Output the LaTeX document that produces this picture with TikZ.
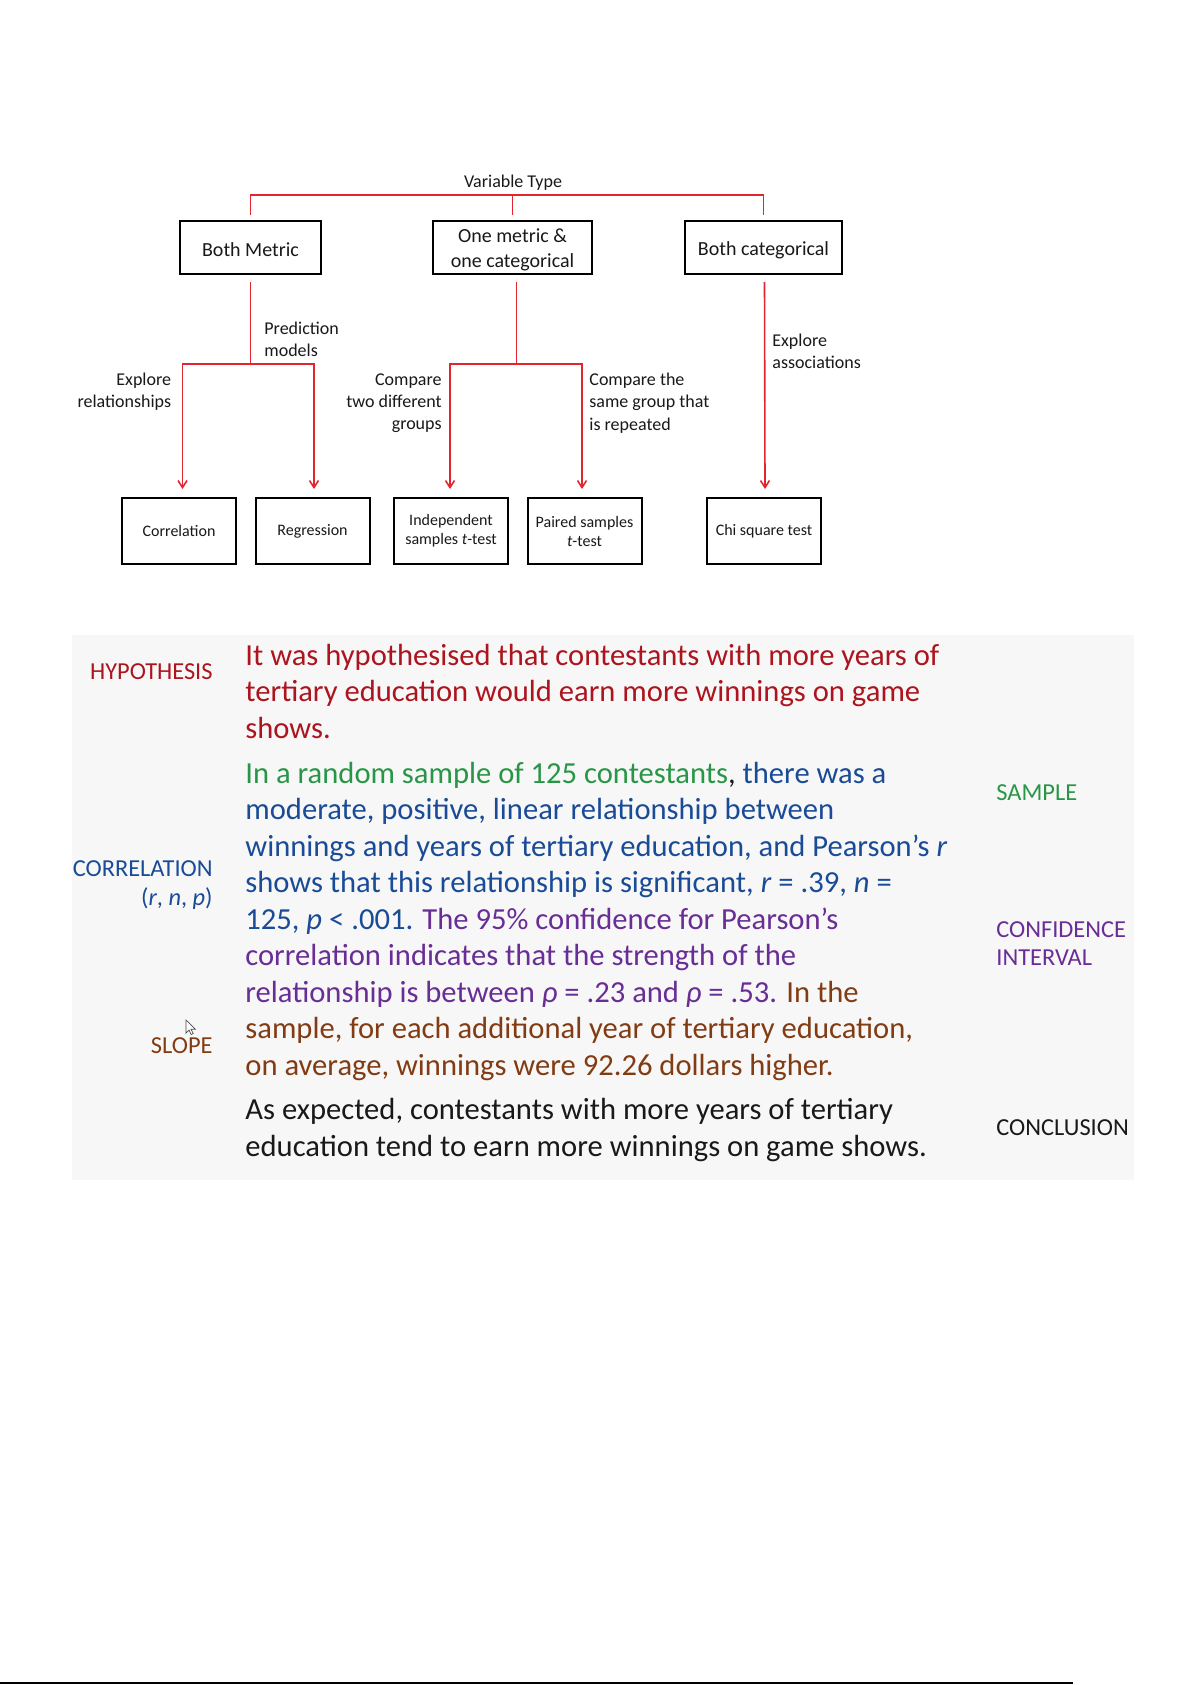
\documentclass[tikz,border=0pt]{standalone}
\usepackage{fontspec}
\setmainfont{Carlito}
\usetikzlibrary{arrows.meta,calc}
\definecolor{tred}{RGB}{226,38,48}
\definecolor{hyp}{RGB}{172,20,30}
\definecolor{smp}{RGB}{40,150,70}
\definecolor{crl}{RGB}{25,75,150}
\definecolor{cin}{RGB}{105,45,150}
\definecolor{slp}{RGB}{130,60,20}
\definecolor{ccl}{RGB}{25,25,25}
\definecolor{bgc}{RGB}{247,247,247}
\begin{document}
\begin{tikzpicture}[x=0.5pt,y=-0.5pt,
  topbox/.style={draw=black,line width=1pt,minimum height=26.5pt,minimum width=#1,inner sep=0pt},
  boxtext/.style={inner sep=0pt,align=center,yshift=-1.2pt,font=\fontsize{10}{12.3}\selectfont,text=ccl},
  botbox/.style={draw=black,line width=1pt,minimum height=33pt,minimum width=57pt,inner sep=0pt,align=center,font=\fontsize{8}{9.5}\selectfont,text=ccl},
  rl/.style={draw=tred,line width=0.8pt},
  arr/.style={-{Straight Barb[length=3.5pt,width=4.5pt]}},
  lab/.style={inner sep=0pt,font=\fontsize{9}{11.1}\selectfont,text=ccl},
  body/.style={inner sep=0pt,anchor=base west,font=\fontsize{15.3}{18}\selectfont},
  tag/.style={inner sep=0pt,font=\fontsize{12.2}{14}\selectfont}]
\useasboundingbox (0,0) rectangle (1192,1685);
\fill[white] (0,0) rectangle (1192,1685);

% ---------- tree ----------
\node[lab] (vt) at (513,183) {Variable Type};
\node[topbox=70.5pt,label={[boxtext]center:Both Metric}] (bm) at (250.5,247.5) {};
\node[topbox=79.5pt,label={[boxtext]center:One metric \&\\one categorical}] (oc) at (512.5,247.5) {};
\node[topbox=78.5pt,label={[boxtext]center:Both categorical}] (bc) at (763.5,247.5) {};

\node[botbox] (corr) at (179,531) {Correlation};
\node[botbox] (reg) at (312.5,531) {Regression};
\node[botbox] (ind) at (451,531) {Independent\\samples \textit{t}-test};
\node[botbox] (pair) at (584.5,531) {Paired samples\\\textit{t}-test};
\node[botbox] (chi) at (764,531) {Chi square test};

\draw[rl] ($(bm.north)+(0,-5)$) |- ($(oc.north)+(0,-25)$) -| ($(bc.north)+(0,-5)$);
\draw[rl] ($(oc.north)+(0,-25)$) -- ($(oc.north)+(0,-5)$);

\coordinate (bmj) at (250.5,364);
\coordinate (omj) at (516.5,364);
\draw[rl] ($(bm.south)+(0,7)$) -- (bmj);
\draw[rl,arr] (bmj) -| ($(corr.north)+(3.5,-8)$);
\draw[rl,arr] (bmj) -| ($(reg.north)+(1.5,-8)$);
\draw[rl] ($(oc.south)+(4,7)$) -- (omj);
\draw[rl,arr] (omj) -| ($(ind.north)+(-1,-8)$);
\draw[rl,arr] (omj) -| ($(pair.north)+(-2.5,-8)$);
\draw[rl,arr] ($(bc.south)+(1,7)$) -- ($(chi.north)+(1,-8)$);

\node[lab,anchor=west,align=left] (pm) at (264,339) {Prediction\\models};
\node[lab,anchor=east,align=right] (er) at (171.5,392) {Explore\\relationships};
\node[lab,anchor=east,align=right] (ctd) at (442,403.5) {Compare\\two different\\groups};
\node[lab,anchor=west,align=left] (csg) at (589,403) {Compare the\\same group that\\is repeated};
\node[lab,anchor=west,align=left] (ea) at (772,351.5) {Explore\\associations};

% ---------- text block ----------
\fill[bgc] (72,635) rectangle (1134,1180);

\node[body,text=hyp] (t1) at (245,665) {It was hypothesised that contestants with more years of};
\node[body,text=hyp] (t2) at (245,701.5) {tertiary education would earn more winnings on game};
\node[body,text=hyp] (t3) at (245,738) {shows.};
\node[body] (t4) at (245,783) {\textcolor{smp}{In a random sample of 125 contestants}\textcolor{ccl}{,} \textcolor{crl}{there was a}};
\node[body,text=crl] (t5) at (245,819.5) {moderate, positive, linear relationship between};
\node[body,text=crl] (t6) at (245,856) {winnings and years of tertiary education, and Pearson’s \textit{r}};
\node[body,text=crl] (t7) at (245,892.5) {shows that this relationship is significant, \textit{r} = .39, \textit{n} =};
\node[body] (t8) at (245,929) {\textcolor{crl}{125, \textit{p} < .001.} \textcolor{cin}{The 95\% confidence for Pearson’s}};
\node[body,text=cin] (t9) at (245,965.5) {correlation indicates that the strength of the};
\node[body] (t10) at (245,1002) {\textcolor{cin}{relationship is between \textit{ρ} = .23 and \textit{ρ} = .53.} \textcolor{slp}{In the}};
\node[body,text=slp] (t11) at (245,1038.5) {sample, for each additional year of tertiary education,};
\node[body,text=slp] (t12) at (245,1075) {on average, winnings were 92.26 dollars higher.};
\node[body,text=ccl] (t13) at (245,1119.5) {As expected, contestants with more years of tertiary};
\node[body,text=ccl] (t14) at (245,1156.5) {education tend to earn more winnings on game shows.};

\node[tag,anchor=base east,text=hyp] (lh) at (213,679) {HYPOTHESIS};
\node[tag,anchor=base east,text=crl] (lc) at (213,876) {CORRELATION};
\node[tag,anchor=base east,text=crl] (lrnp) at (213,905.5) {(\textit{r}, \textit{n}, \textit{p})};
\node[tag,anchor=base east,text=slp] (ls) at (213,1053) {SLOPE};
\node[tag,anchor=base west,text=smp] (lsa) at (996,800) {SAMPLE};
\node[tag,anchor=base west,text=cin] (lci) at (996,937) {CONFIDENCE};
\node[tag,anchor=base west,text=cin] (lci2) at (996,965) {INTERVAL};
\node[tag,anchor=base west,text=ccl] (lcc) at (996,1135) {CONCLUSION};

% mouse pointer
\draw[fill=white,draw=black!70,line width=0.35pt] (186,1020) -- ++(0,13) -- ++(3,-3) -- ++(2.2,4.5) -- ++(2,-1) -- ++(-2.2,-4.3) -- ++(4.3,0) -- cycle;

% bottom rule
\draw[black,line width=0.6pt] (0,1683) -- (1073,1683);
\end{tikzpicture}
\end{document}
